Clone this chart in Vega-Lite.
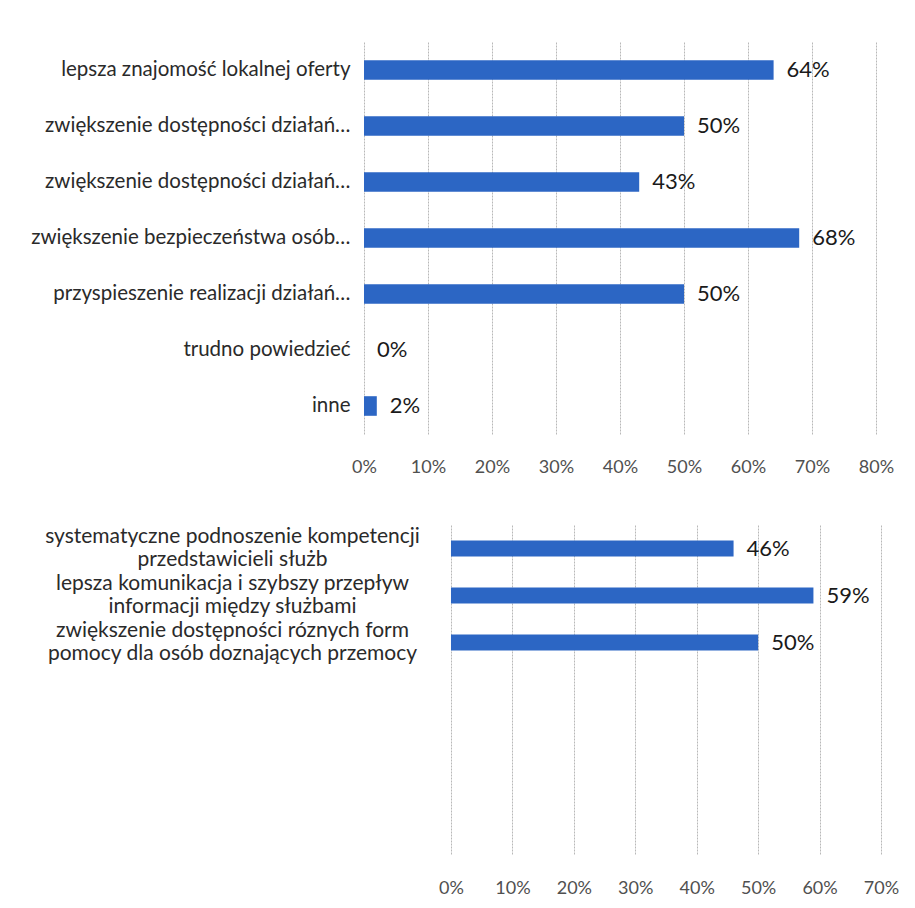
{
  "$schema": "https://vega.github.io/schema/vega-lite/v6.json",
  "background": "white",
  "padding": {"left": 30, "top": 42, "right": 5, "bottom": 5},
  "config": {
    "view": {"stroke": null},
    "font": "Lato",
    "axis": {"domain": false, "ticks": false, "title": null, "gridColor": "#b8b8b8", "gridDash": [2, 1], "gridWidth": 1, "labelFlush": false}
  },
  "spacing": 48,
  "vconcat": [
    {
      "width": 512,
      "height": 392,
      "data": {"values": [
        {"label": "lepsza znajomość lokalnej oferty", "value": 0.64},
        {"label": "zwiększenie dostępności działań…", "value": 0.50},
        {"label": "zwiększenie dostępności działań… ", "value": 0.43},
        {"label": "zwiększenie bezpieczeństwa osób…", "value": 0.68},
        {"label": "przyspieszenie realizacji działań…", "value": 0.50},
        {"label": "trudno powiedzieć", "value": 0.0},
        {"label": "inne", "value": 0.02}
      ]},
      "encoding": {
        "y": {"field": "label", "type": "nominal", "sort": null,
          "scale": {"paddingInner": 0.65, "paddingOuter": 0.325},
          "axis": {"grid": false, "labelFontSize": 20.5, "labelColor": "#2a2a2a", "labelPadding": 14, "labelLimit": 0}},
        "x": {"field": "value", "type": "quantitative",
          "scale": {"domain": [0, 0.8]},
          "axis": {"values": [0, 0.1, 0.2, 0.3, 0.4, 0.5, 0.6, 0.7, 0.8], "format": ".0%", "labelFontSize": 18, "labelColor": "#505050", "labelPadding": 24, "grid": true}}
      },
      "layer": [
        {"mark": {"type": "bar", "color": "#2c66c4"}},
        {"mark": {"type": "text", "align": "left", "baseline": "middle", "dx": 13, "fontSize": 22, "color": "#1a1a1a"},
          "encoding": {"text": {"field": "value", "type": "quantitative", "format": ".0%"}}}
      ]
    },
    {
      "width": 517,
      "height": 329,
      "data": {"values": [
        {"label": "systematyczne podnoszenie kompetencji\nprzedstawicieli służb", "value": 0.46},
        {"label": "lepsza komunikacja i szybszy przepływ\ninformacji między służbami", "value": 0.59},
        {"label": "zwiększenie dostępności róznych form\npomocy dla osób doznających przemocy", "value": 0.50}
      ]},
      "encoding": {
        "y": {"field": "label", "type": "nominal", "sort": null,
          "scale": {"domain": [
            "systematyczne podnoszenie kompetencji\nprzedstawicieli służb",
            "lepsza komunikacja i szybszy przepływ\ninformacji między służbami",
            "zwiększenie dostępności róznych form\npomocy dla osób doznających przemocy",
            "p1", "p2", "p3", "p4"], "paddingInner": 0.66, "paddingOuter": 0.33},
          "axis": {"grid": false, "labelFontSize": 21, "labelColor": "#2a2a2a", "labelAlign": "center", "labelPadding": 132, "labelLimit": 0, "labelLineHeight": 23, "labelOffset": -12,
            "labelExpr": "indexof(datum.label, '\\n') < 0 ? '' : split(datum.label, '\\n')"}},
        "x": {"field": "value", "type": "quantitative",
          "scale": {"domain": [-0.1416, 0.7], "nice": false, "zero": false},
          "axis": {"values": [0, 0.1, 0.2, 0.3, 0.4, 0.5, 0.6, 0.7], "format": ".0%", "labelFontSize": 18, "labelColor": "#505050", "labelPadding": 25, "grid": true}}
      },
      "layer": [
        {"mark": {"type": "bar", "color": "#2c66c4"}},
        {"mark": {"type": "text", "align": "left", "baseline": "middle", "dx": 13, "fontSize": 22, "color": "#1a1a1a"},
          "encoding": {"text": {"field": "value", "type": "quantitative", "format": ".0%"}}}
      ]
    }
  ]
}
